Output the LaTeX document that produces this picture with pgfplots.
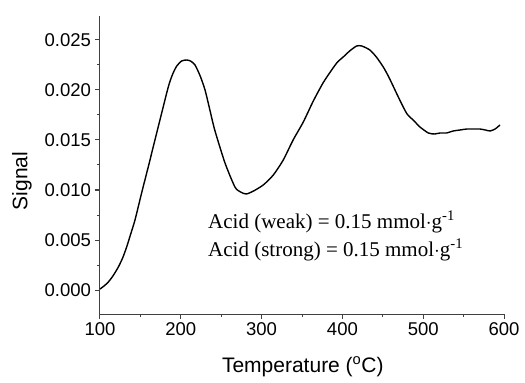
\documentclass[border=0pt]{standalone}
\usepackage{fontspec}
\setmainfont{Liberation Sans}
\newfontfamily\timesfont{Liberation Serif}
\usepackage{pgfplots}
\pgfplotsset{compat=1.18}
\begin{document}
\begin{tikzpicture}
\begin{axis}[
  name=ax,
  scale only axis,
  width=404pt, height=298pt,
  xmin=100, xmax=600,
  ymin=-0.0024, ymax=0.0274,
  axis lines*=left,
  axis line style={black!75, line width=1pt},
  every tick/.style={black!75, line width=1pt},
  tick align=outside,
  major tick length=4.5pt,
  minor tick length=2.5pt,
  xtick={100,200,...,600},
  ytick={0,0.005,0.01,0.015,0.02,0.025},
  minor x tick num=1,
  minor y tick num=1,
  scaled y ticks=false,
  /pgf/number format/assume math mode=true,
  yticklabel style={/pgf/number format/fixed,/pgf/number format/fixed zerofill,/pgf/number format/precision=3, font=\fontsize{18.5}{20}\selectfont, xshift=-1pt},
  xticklabel style={font=\fontsize{18.5}{20}\selectfont, yshift=-1pt},
  xlabel={Temperature (\textsuperscript{o}C)},
  ylabel={Signal},
  label style={font=\fontsize{21}{24}\selectfont},
  xlabel style={at={(axis description cs:0.502,-0.177)}, anchor=center},
  ylabel style={at={(axis description cs:-0.193,0.446)}, anchor=center, rotate=0},
  clip=false,
]
\addplot[black, line width=1.4pt, smooth, tension=0.4] coordinates {
(100,0.0001) (105,0.0004) (110.3,0.0008) (116,0.0014) (122.7,0.0023) (128,0.0032)
(133,0.0043) (138,0.0056) (143.3,0.0070) (151.5,0.0097) (160,0.0124) (172,0.0163)
(184.5,0.0203) (190,0.0216) (195,0.0224) (201,0.0229) (207,0.0230) (212,0.0229)
(217.6,0.0225) (224,0.0214) (230,0.0200) (236,0.0180) (242,0.0160) (254.7,0.0127)
(267,0.0103) (274,0.0098) (281,0.0096) (290,0.0099) (302,0.0105) (314.5,0.0115)
(326.8,0.0130) (339,0.0150) (351.6,0.0168) (364,0.0189) (376,0.0207)
(386.7,0.0220) (394,0.0228) (401,0.0233) (409,0.0239) (417.6,0.0244) (424,0.0244)
(434,0.0240) (442,0.0233) (450.6,0.0223) (458,0.0212) (471,0.0190) (480,0.0176)
(487.6,0.0170) (496,0.0163) (506.4,0.0157) (514,0.0156) (520.8,0.0157) (529,0.0157)
(537,0.0159) (545.5,0.0160) (554,0.0161) (562,0.0161) (570,0.0161) (577,0.0160)
(582.7,0.0159) (589,0.0161) (595,0.0165)
};
\node[anchor=west, align=left, inner sep=0pt, font=\timesfont\fontsize{21}{28}\selectfont]
  at (axis cs:233.7,0.0054)
  {Acid (weak) = 0.15 mmol$\cdot$g\textsuperscript{-1}\\Acid (strong) = 0.15 mmol$\cdot$g\textsuperscript{-1}};
\end{axis}
\path (ax.south west) ++(-100pt,-69pt) coordinate (bl);
\path (ax.south west) ++(425pt,314pt) coordinate (tr);
\useasboundingbox (bl) rectangle (tr);
\end{tikzpicture}
\end{document}
